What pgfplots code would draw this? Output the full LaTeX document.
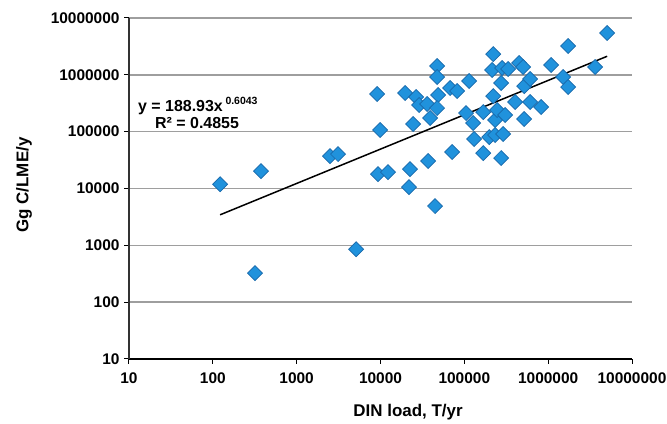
\documentclass[border=0pt]{standalone}
\usepackage{fontspec}
\setmainfont{Liberation Sans}
\usepackage{pgfplots}
\pgfplotsset{compat=1.18}
\definecolor{mk}{RGB}{32,146,220}
\definecolor{mkedge}{RGB}{24,104,170}
\definecolor{gridc}{RGB}{158,158,158}
\pgfplotstableread{
x y
122 11900
319 324
376 20200
2500 37200
3120 40300
5120 857
9100 459000
9890 107000
9360 17900
12300 19400
19700 478000
21900 10600
22500 22000
24500 136000
26600 406000
28900 294000
36000 306000
37000 30400
39100 173500
44800 4900
47300 1430000
47300 915000
48700 441000
47300 260000
67700 586000
71500 43800
82000 519000
105000 212000
114000 778000
127000 142000
131000 74100
168000 221000
168000 42000
198000 80300
221000 2320000
215000 1215000
221000 423000
233000 160000
233000 87100
246000 240000
275000 717000
275000 34300
282000 1318000
290000 90700
307000 196000
333000 1265000
404000 332000
451000 1614000
503000 1372000
518000 635000
518000 167000
610000 843000
610000 332000
825000 271000
1086000 1488000
1510000 915000
1734000 3214000
1734000 610000
3640000 1372000
5058000 5449000
}\pts
\begin{document}
\begin{tikzpicture}
\begin{loglogaxis}[
  name=ax,
  scale only axis, width=503bp, height=341bp,
  xmin=10, xmax=1e7, ymin=10, ymax=1e7,
  axis x line*=bottom, axis y line*=left,
  x axis line style={-, black, line width=1.2bp},
  y axis line style={-, black!80, line width=1.4bp},
  xtick={10,100,1000,10000,100000,1000000,10000000},
  xticklabels={10,100,1000,10000,100000,1000000,10000000},
  ytick={10,100,1000,10000,100000,1000000,10000000},
  yticklabels={10,100,1000,10000,100000,1000000,10000000},
  minor tick style={draw=none},
  tick align=outside, major tick length=5bp,
  major tick style={black, line width=1bp},
  ymajorgrids, major grid style={gridc, line width=1.4bp},
  ticklabel style={font=\fontsize{15.5}{18}\selectfont\bfseries},
  xticklabel style={yshift=-5bp},
  yticklabel style={xshift=-1bp},
  clip=false,
]
\addplot[only marks, mark=square*, mark size=5.3bp,
  mark options={rotate=45, fill=mk, draw=mkedge, line width=0.7bp}] table[x=x,y=y] {\pts};
\addplot[black, line width=1.5bp, no marks] coordinates {(122,3443) (5058000,2123000)};
\node[anchor=base west, inner sep=0pt, font=\fontsize{16}{18}\selectfont\bfseries]
  at (rel axis cs:0.0179,0.727) {y = 188.93x\,{\fontsize{10.5}{12}\selectfont\raisebox{7bp}{0.6043}}};
\node[anchor=base west, inner sep=0pt, font=\fontsize{16}{18}\selectfont\bfseries]
  at (rel axis cs:0.0517,0.6745) {R² = 0.4855};
\node[rotate=90, font=\fontsize{17}{20}\selectfont\bfseries]
  at (rel axis cs:-0.2087,0.510) {Gg C/LME/y};
\node[font=\fontsize{17}{20}\selectfont\bfseries]
  at (rel axis cs:0.5547,-0.155) {DIN load, T/yr};
\end{loglogaxis}
\pgfresetboundingbox
\path ([shift={(-129bp,-65bp)}]ax.south west) rectangle ([shift={(35bp,18bp)}]ax.north east);
\end{tikzpicture}
\end{document}
